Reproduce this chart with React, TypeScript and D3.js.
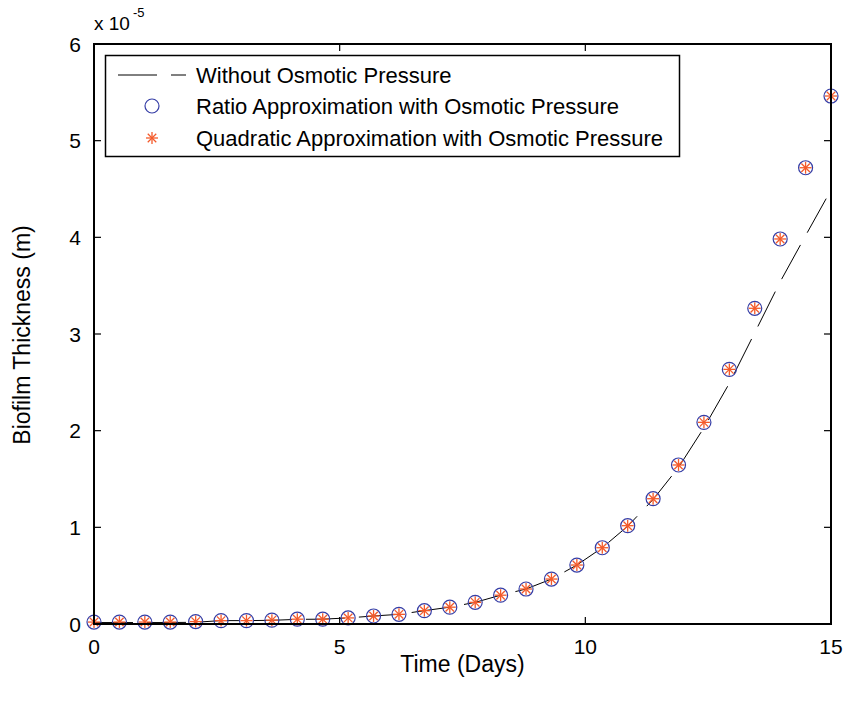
import React from "react";
import * as d3 from "d3";

// Data (thickness values in units of 1e-5 m)
const times: number[] = d3.range(30).map((i) => (i * 15) / 29);
const ratioApprox: number[] = [
  0.02, 0.02, 0.02, 0.02, 0.025, 0.035, 0.035, 0.04, 0.05, 0.05,
  0.063, 0.083, 0.1, 0.138, 0.174, 0.224, 0.298, 0.362, 0.465, 0.61,
  0.789, 1.017, 1.296, 1.645, 2.086, 2.634, 3.266, 3.983, 4.72, 5.462,
];
const quadApprox: number[] = [
  0.02, 0.02, 0.02, 0.02, 0.025, 0.035, 0.035, 0.04, 0.05, 0.05,
  0.063, 0.083, 0.1, 0.138, 0.174, 0.224, 0.298, 0.362, 0.465, 0.61,
  0.789, 1.017, 1.296, 1.645, 2.086, 2.634, 3.266, 3.983, 4.72, 5.462,
];
const withoutOsmotic: number[] = [
  0.015, 0.015, 0.015, 0.015, 0.018, 0.035, 0.035, 0.038, 0.048, 0.05,
  0.063, 0.083, 0.1, 0.138, 0.174, 0.224, 0.298, 0.362, 0.465, 0.61,
  0.789, 1.012, 1.288, 1.62, 2.03, 2.49, 3.014, 3.54, 4.018, 4.49,
];
const xTicks: number[] = [0, 5, 10, 15];
const yTicks: number[] = [0, 1, 2, 3, 4, 5, 6];
const legendLabels: string[] = [
  "Without Osmotic Pressure",
  "Ratio Approximation with Osmotic Pressure",
  "Quadratic Approximation with Osmotic Pressure",
];

const W = 845;
const H = 710;
const M = { left: 94, right: 831, top: 44, bottom: 624 };
const FONT = "'Liberation Sans', Arial, Helvetica, sans-serif";
const BLUE = "#363ea6";
const ORANGE = "#f45a2a";
const DASH = "39,14";

function Star({ cx, cy, r }: { cx: number; cy: number; r: number }) {
  const d = r * Math.SQRT1_2;
  return (
    <g stroke={ORANGE} strokeWidth={1.3}>
      <line x1={cx - r} y1={cy} x2={cx + r} y2={cy} />
      <line x1={cx} y1={cy - r} x2={cx} y2={cy + r} />
      <line x1={cx - d} y1={cy - d} x2={cx + d} y2={cy + d} />
      <line x1={cx - d} y1={cy + d} x2={cx + d} y2={cy - d} />
    </g>
  );
}

export default function App() {
  const x = d3.scaleLinear().domain([0, 15]).range([M.left, M.right]);
  const y = d3.scaleLinear().domain([0, 6]).range([M.bottom, M.top]);
  const line = d3
    .line<number>()
    .x((_, i) => x(times[i]))
    .y((v) => y(v));
  const tickLen = 7;
  const legRows = [75, 106, 138];

  return (
    <svg
      width={W}
      height={H}
      style={{ position: "absolute", left: 0, top: 0, background: "#fff" }}
      fontFamily={FONT}
    >
      <rect x={0} y={0} width={W} height={H} fill="#fff" />
      {/* data line */}
      <path d={line(withoutOsmotic) || ""} fill="none" stroke="#000" strokeWidth={1} strokeDasharray={DASH} />
      {/* circles */}
      {ratioApprox.map((v, i) => (
        <circle key={"c" + i} cx={x(times[i])} cy={y(v)} r={7} fill="none" stroke={BLUE} strokeWidth={1.2} />
      ))}
      {quadApprox.map((v, i) => (
        <Star key={"s" + i} cx={x(times[i])} cy={y(v)} r={6} />
      ))}
      {/* axes box */}
      <rect
        x={M.left}
        y={M.top}
        width={M.right - M.left}
        height={M.bottom - M.top}
        fill="none"
        stroke="#000"
        strokeWidth={2}
      />
      {/* ticks */}
      {xTicks.map((t) => (
        <g key={"xt" + t}>
          <line x1={x(t)} x2={x(t)} y1={M.bottom} y2={M.bottom - tickLen} stroke="#000" strokeWidth={1.2} />
          <line x1={x(t)} x2={x(t)} y1={M.top} y2={M.top + tickLen} stroke="#000" strokeWidth={1.2} />
          <text x={x(t)} y={654} textAnchor="middle" fontSize={21}>
            {t}
          </text>
        </g>
      ))}
      {yTicks.map((t) => (
        <g key={"yt" + t}>
          <line x1={M.left} x2={M.left + tickLen} y1={y(t)} y2={y(t)} stroke="#000" strokeWidth={1.2} />
          <line x1={M.right} x2={M.right - tickLen} y1={y(t)} y2={y(t)} stroke="#000" strokeWidth={1.2} />
          <text x={81} y={y(t) + 7.5} textAnchor="end" fontSize={21}>
            {t}
          </text>
        </g>
      ))}
      {/* exponent */}
      <text x={94} y={30} fontSize={19}>
        x 10
      </text>
      <text x={133} y={17} fontSize={13}>
        -5
      </text>
      {/* axis labels */}
      <text x={(M.left + M.right) / 2} y={672} textAnchor="middle" fontSize={23}>
        Time (Days)
      </text>
      <text
        transform={`translate(30, ${(M.top + M.bottom) / 2 + 1}) rotate(-90)`}
        textAnchor="middle"
        fontSize={23}
      >
        Biofilm Thickness (m)
      </text>
      {/* legend */}
      <rect x={105.5} y={55.5} width={574} height={101} fill="#fff" stroke="#000" strokeWidth={1.5} />
      <line x1={118} x2={186} y1={legRows[0]} y2={legRows[0]} stroke="#000" strokeWidth={1} strokeDasharray={DASH} />
      <circle cx={152} cy={legRows[1]} r={7} fill="none" stroke={BLUE} strokeWidth={1.2} />
      <Star cx={152} cy={legRows[2]} r={6} />
      {legendLabels.map((l, i) => (
        <text key={l} x={196} y={legRows[i] + 8} fontSize={22}>
          {l}
        </text>
      ))}
    </svg>
  );
}
